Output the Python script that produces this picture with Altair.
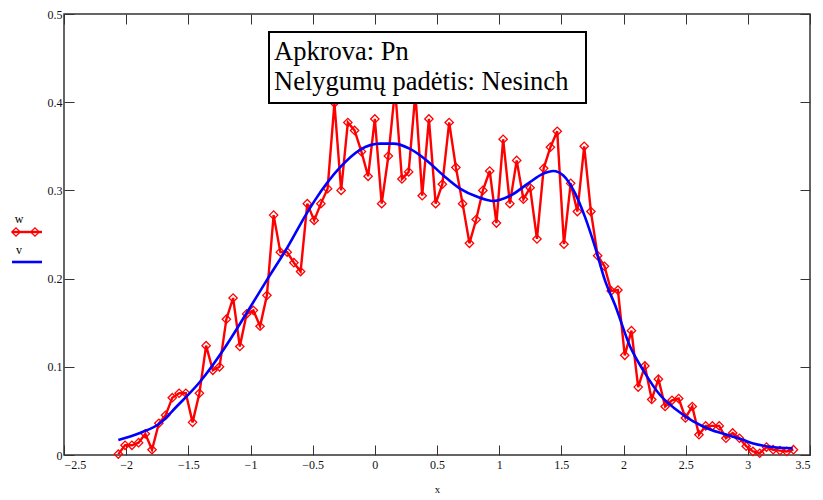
import altair as alt
import pandas as pd

# ---------------- data ----------------
w_x = [-2.063, -2.009, -1.954, -1.900, -1.846, -1.792, -1.737, -1.683, -1.629, -1.574,
       -1.520, -1.466, -1.411, -1.357, -1.303, -1.249, -1.194, -1.140, -1.086, -1.031,
       -0.977, -0.923, -0.868, -0.814, -0.760, -0.705, -0.651, -0.597, -0.543, -0.488,
       -0.434, -0.380, -0.325, -0.271, -0.217, -0.163, -0.108, -0.054, 0.000, 0.055,
       0.109, 0.163, 0.218, 0.272, 0.326, 0.381, 0.435, 0.489, 0.543, 0.598,
       0.652, 0.706, 0.761, 0.815, 0.869, 0.924, 0.978, 1.032, 1.086, 1.141,
       1.195, 1.249, 1.304, 1.358, 1.412, 1.467, 1.521, 1.575, 1.629, 1.684,
       1.738, 1.792, 1.847, 1.901, 1.955, 2.010, 2.064, 2.118, 2.172, 2.227,
       2.281, 2.335, 2.390, 2.444, 2.498, 2.553, 2.607, 2.661, 2.715, 2.770,
       2.824, 2.878, 2.933, 2.987, 3.041, 3.096, 3.150, 3.204, 3.258, 3.313,
       3.367]
w_values = [0.001, 0.011, 0.011, 0.014, 0.024, 0.006, 0.036, 0.045, 0.065, 0.070,
            0.070, 0.037, 0.070, 0.124, 0.096, 0.100, 0.154, 0.178, 0.123, 0.160,
            0.164, 0.146, 0.181, 0.272, 0.230, 0.230, 0.218, 0.208, 0.285, 0.266,
            0.285, 0.302, 0.399, 0.300, 0.377, 0.368, 0.344, 0.316, 0.381, 0.285,
            0.339, 0.415, 0.313, 0.321, 0.410, 0.294, 0.381, 0.285, 0.307, 0.377,
            0.326, 0.285, 0.240, 0.267, 0.300, 0.322, 0.263, 0.358, 0.285, 0.334,
            0.290, 0.303, 0.245, 0.325, 0.349, 0.367, 0.239, 0.308, 0.276, 0.350,
            0.276, 0.226, 0.214, 0.186, 0.187, 0.113, 0.141, 0.077, 0.101, 0.063,
            0.086, 0.055, 0.062, 0.064, 0.042, 0.055, 0.023, 0.033, 0.033, 0.033,
            0.019, 0.025, 0.019, 0.010, 0.004, 0.002, 0.009, 0.006, 0.005, 0.004,
            0.006]

v_x = [-2.063, -1.889, -1.728, -1.594, -1.406, -1.219, -1.031, -0.870, -0.709, -0.548,
       -0.481, -0.280, -0.119, 0.042, 0.149, 0.283, 0.417, 0.551, 0.685, 0.819,
       0.953, 1.101, 1.234, 1.355, 1.435, 1.516, 1.610, 1.690, 1.771, 1.851,
       1.932, 2.053, 2.159, 2.294, 2.428, 2.561, 2.696, 2.830, 2.964, 3.044,
       3.178, 3.361]
v_values = [0.017, 0.025, 0.036, 0.055, 0.083, 0.119, 0.161, 0.198, 0.234, 0.274,
            0.289, 0.326, 0.346, 0.353, 0.353, 0.347, 0.334, 0.317, 0.302, 0.293,
            0.288, 0.295, 0.308, 0.319, 0.322, 0.317, 0.297, 0.270, 0.236, 0.198,
            0.170, 0.123, 0.096, 0.068, 0.051, 0.038, 0.029, 0.023, 0.017, 0.013,
            0.0094, 0.0076]

x_ticks = [-2.5, -2, -1.5, -1, -0.5, 0, 0.5, 1, 1.5, 2, 2.5, 3, 3.5]
y_ticks = [0, 0.1, 0.2, 0.3, 0.4, 0.5]

note_lines = ["Apkrova: Pn", "Nelygumų padėtis: Nesinch"]
legend_labels = ["w", "v"]

# ---------------- style ----------------
FONT = "'Liberation Serif', 'DejaVu Serif', serif"
RED = "#ff0000"
BLUE = "#0000ff"
W, H = 746, 441

df_w = pd.DataFrame({"x": w_x, "w": w_values})
df_v = pd.DataFrame({"x": v_x, "v": v_values})
one = pd.DataFrame({"k": [0]})

xs = alt.Scale(domain=[-2.5, 3.5], nice=False, zero=False)
ys = alt.Scale(domain=[0, 0.5], nice=False, zero=False)

common_axis = dict(grid=False, domain=False, tickSize=10, offset=-10,
                   tickColor="#333", tickWidth=1, labelFont=FONT,
                   labelFontSize=12, labelColor="#111", format="~g")

x_bottom = alt.Axis(orient="bottom", values=x_ticks, labelPadding=4,
                    title="x", titleFont=FONT, titleFontSize=11,
                    titleFontWeight="normal", titleColor="#111", titlePadding=13,
                    **common_axis)
y_left = alt.Axis(orient="left", values=y_ticks, labelPadding=2, title=None,
                  **common_axis)
x_top = alt.Axis(orient="top", values=x_ticks, labels=False, title=None,
                 **common_axis)
y_right = alt.Axis(orient="right", values=y_ticks, labels=False, title=None,
                   **common_axis)

w_line = alt.Chart(df_w).mark_line(color=RED, strokeWidth=2.4).encode(
    x=alt.X("x:Q", scale=xs, axis=x_bottom),
    y=alt.Y("w:Q", scale=ys, axis=y_left),
)
w_pts = alt.Chart(df_w).mark_point(shape="diamond", filled=False, color=RED,
                                   size=70, strokeWidth=1.3, opacity=1).encode(
    x=alt.X("x:Q", scale=xs, axis=x_top),
    y=alt.Y("w:Q", scale=ys, axis=y_right),
)
v_line = alt.Chart(df_v).mark_line(color=BLUE, strokeWidth=2.6,
                                   interpolate="monotone").encode(
    x=alt.X("x:Q", scale=xs, axis=None),
    y=alt.Y("v:Q", scale=ys, axis=None),
)

# annotation box
box = alt.Chart(one).mark_rect(fill="white", stroke="black", strokeWidth=2).encode(
    x=alt.value(205), x2=alt.value(522), y=alt.value(18), y2=alt.value(89)
)
txt1 = alt.Chart(one).mark_text(align="left", baseline="alphabetic", font=FONT,
                                fontSize=26.5, color="black", text=note_lines[0]).encode(
    x=alt.value(210), y=alt.value(46)
)
txt2 = alt.Chart(one).mark_text(align="left", baseline="alphabetic", font=FONT,
                                fontSize=26.5, color="black", text=note_lines[1]).encode(
    x=alt.value(210), y=alt.value(76)
)

# custom legend (left of the plot)
lg_w_txt = alt.Chart(one).mark_text(align="center", baseline="alphabetic", font=FONT,
                                    fontSize=12, color="black", text=legend_labels[0]).encode(
    x=alt.value(-45), y=alt.value(209)
)
lg_w_line = alt.Chart(one).mark_rule(color=RED, strokeWidth=2.4).encode(
    x=alt.value(-52), x2=alt.value(-22), y=alt.value(218)
)
lg_w_p1 = alt.Chart(one).mark_point(shape="diamond", filled=False, color=RED,
                                    size=70, strokeWidth=1.3, opacity=1).encode(
    x=alt.value(-48), y=alt.value(218)
)
lg_w_p2 = alt.Chart(one).mark_point(shape="diamond", filled=False, color=RED,
                                    size=70, strokeWidth=1.3, opacity=1).encode(
    x=alt.value(-29), y=alt.value(218)
)
lg_v_txt = alt.Chart(one).mark_text(align="center", baseline="alphabetic", font=FONT,
                                    fontSize=12, color="black", text=legend_labels[1]).encode(
    x=alt.value(-45), y=alt.value(240)
)
lg_v_line = alt.Chart(one).mark_rule(color=BLUE, strokeWidth=2.6).encode(
    x=alt.value(-52), x2=alt.value(-22), y=alt.value(248)
)

chart = alt.layer(
    w_line, w_pts, v_line, box, txt1, txt2,
    lg_w_txt, lg_w_line, lg_w_p1, lg_w_p2, lg_v_txt, lg_v_line,
).resolve_axis(x="independent", y="independent").properties(
    width=W, height=H,
    autosize=alt.AutoSizeParams(type="none"),
    padding={"left": 64, "top": 14, "right": 13, "bottom": 45},
    background="white",
).configure_view(stroke="#333", strokeWidth=1.5)

chart.save("out.html", embed_options={"renderer": "svg", "actions": False})
